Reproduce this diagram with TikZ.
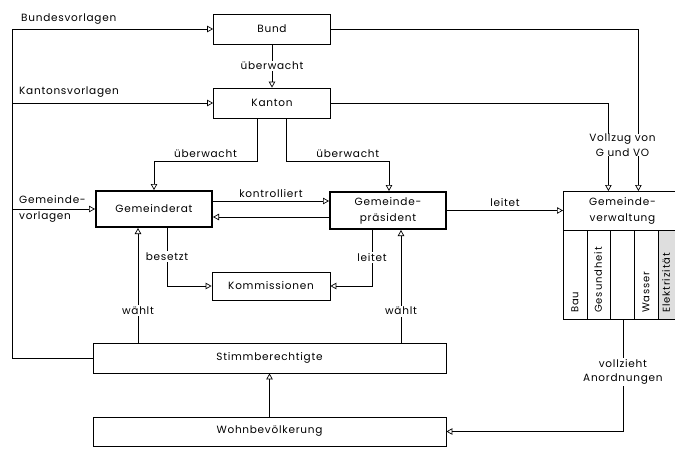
\documentclass[tikz,border=0pt]{standalone}
\usepackage{fontspec}
\setmainfont{Poppins}[LetterSpace=7]
\usetikzlibrary{arrows.meta}
\usetikzlibrary{positioning}
\usetikzlibrary{calc}

\begin{document}
\begin{tikzpicture} [x=1pt, y=-1pt,
      font=\fontsize{10.5}{16}\selectfont,
      box/.style={draw, line width=0.8pt, inner sep=0pt, align=center},
      dickbox/.style={box, line width=2pt},
      lbl/.style={fill=white, inner sep=1.5pt, align=center},
      pfeil/.style={line width=0.7pt, -{Triangle[open, length=6pt, width=6.5pt]}},
      linie/.style={line width=0.7pt}]
      \useasboundingbox (0,0) rectangle (675,463);

      % Ebenen
      \node[box, minimum width=117, minimum height=30] (bund) at (272,29) {Bund};
      \node[box, minimum width=117, minimum height=30] (kanton) at (272,103) {Kanton};
      \node[dickbox, minimum width=116, minimum height=36] (rat) at (154,209) {Gemeinderat};
      \node[dickbox, minimum width=116, minimum height=37] (praes) at (388,210.5) {Gemeinde-\\präsident};
      \node[box, minimum width=118, minimum height=28] (kom) at (271,286) {Kommissionen};
      \node[box, minimum width=353, minimum height=30] (stimm) at (269.5,358) {Stimmberechtigte};
      \node[box, minimum width=353, minimum height=29] (wohn) at (269.5,431.5) {Wohnbevölkerung};

      % Gemeindeverwaltung mit Abteilungen
      \fill[black!13] (658,230) rectangle (682,319);
      \node[box, minimum width=119, minimum height=128, anchor=north west] (verw) at (563,191) {};
      \node[align=center] (verwtitel) at (622.5,210.5) {Gemeinde-\\verwaltung};
      \draw[linie] (verw.west |- 0,230) -- (verw.east |- 0,230);
      \foreach \x in {587,610,634,658}
          \draw[linie] (\x,230) -- (\x,319);
      \foreach \x/\abt in {575/Bau, 598/Gesundheit, 646/Wasser, 666/Elektrizität}
          \node[rotate=90, anchor=west, inner sep=2pt, font=\fontsize{10}{12}\selectfont\addfontfeature{LetterSpace=9}] (abt-\abt) at (\x,315) {\abt};

      % Vorlagen
      \coordinate (links) at (12,0);
      \node[anchor=west, inner sep=0pt] (bvl) at (21,19) {Bundesvorlagen};
      \node[anchor=west, inner sep=0pt] (kvl) at (19,92) {Kantonsvorlagen};
      \node[anchor=west, inner sep=0pt, align=left] (gvl) at (19,209) {Gemeinde-\\vorlagen};
      \draw[pfeil] (stimm.west) -| (links |- bund.west) -- (bund.west);
      \draw[pfeil] (links |- kanton.west) -- (kanton.west);
      \draw[pfeil] (links |- rat.west) -- (rat.west);

      % Aufsicht
      \draw[pfeil] (bund.south) -- (kanton.north) node[midway, lbl] {überwacht};
      \draw[pfeil] ([xshift=-15]kanton.south) -- ++(0,43) -| (rat.north)
          node[pos=0.25, above, inner sep=3pt] {überwacht};
      \draw[pfeil] ([xshift=14]kanton.south) -- ++(0,43) -| ([xshift=1]praes.north)
          node[pos=0.3, above, inner sep=3pt] {überwacht};

      % Vollzug
      \draw[pfeil] (bund.east) -| ([xshift=15.5]verw.north);
      \draw[pfeil] (kanton.east) -| ([xshift=-14.5]verw.north);
      \node[lbl, inner sep=0pt, font=\fontsize{10.5}{15}\selectfont] (vollzug) at (622.5,145) {Vollzug von\\G und VO};

      % Gemeinde
      \draw[pfeil] ([yshift=8]rat.east) -- ([yshift=8]rat.east -| praes.west)
          node[midway, above, inner sep=3pt] {kontrolliert};
      \draw[pfeil] ([yshift=-8]rat.east -| praes.west) -- ([yshift=-8]rat.east);
      \draw[pfeil] (praes.east) -- (praes.east -| verw.west)
          node[midway, above, inner sep=4pt] {leitet};
      \draw[pfeil] ([xshift=13]rat.south) |- (kom.west) node[pos=0.245, lbl] {besetzt};
      \draw[pfeil] ([xshift=-16]praes.south) |- (kom.east) node[pos=0.245, lbl] {leitet};

      % Wahlen
      \draw[pfeil] ([xshift=-16]rat.south |- stimm.north) -- ([xshift=-16]rat.south)
          node[pos=0.28, lbl] {wählt};
      \draw[pfeil] ([xshift=13]praes.south |- stimm.north) -- ([xshift=13]praes.south)
          node[pos=0.28, lbl] {wählt};
      \draw[pfeil] (wohn.north) -- (stimm.south);
      \draw[pfeil] (verw.south) |- (wohn.east)
          node[pos=0.235, lbl, font=\fontsize{10.5}{14}\selectfont] {vollzieht\\Anordnungen};
\end{tikzpicture}
\end{document}
